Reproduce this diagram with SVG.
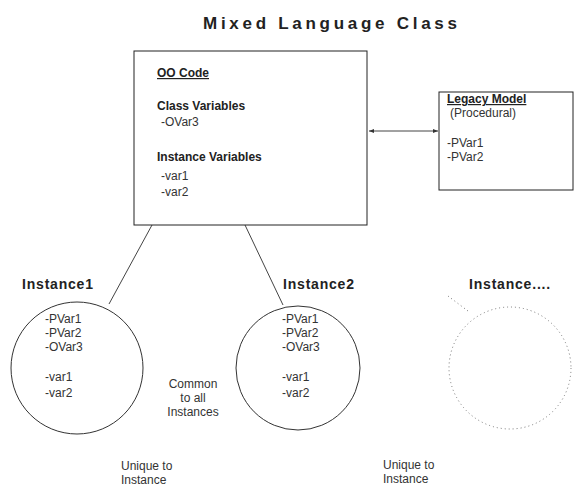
<svg xmlns="http://www.w3.org/2000/svg" width="582" height="500" viewBox="0 0 582 500">
<style>
text{font-family:"Liberation Sans",Arial,sans-serif;fill:#222}
.t{font-size:12px;fill:#333}
.b{font-size:12px;font-weight:bold}
.h{font-size:14px;font-weight:bold;letter-spacing:0.8px}
.box{fill:#fff;stroke:#222;stroke-width:1}
.c{fill:none;stroke:#333;stroke-width:1}
.ln{stroke:#444;stroke-width:1;fill:none}
</style>
<defs>
<marker id="ah" markerWidth="6" markerHeight="6" refX="5" refY="3" orient="auto-start-reverse" markerUnits="userSpaceOnUse">
<path d="M0,1 L5,3 L0,5 z" fill="#333"/>
</marker>
</defs>
<rect width="582" height="500" fill="#fff"/>
<text x="203" y="29" style="font-size:17px;font-weight:bold" textLength="254" lengthAdjust="spacing">Mixed  Language  Class</text>
<g id="connectors">
<line class="ln" x1="369" y1="131" x2="438" y2="131" marker-start="url(#ah)" marker-end="url(#ah)"/>
<line class="ln" x1="152" y1="225" x2="109" y2="304"/>
<line class="ln" x1="245" y1="225" x2="283" y2="305"/>
</g>
<g id="oo-code">
<rect class="box" x="134" y="51" width="233" height="174"/>
<text class="b" x="157" y="77" text-decoration="underline">OO Code</text>
<text class="b" x="157" y="110">Class Variables</text>
<text class="t" x="161" y="126">-OVar3</text>
<text class="b" x="157" y="161">Instance Variables</text>
<text class="t" x="161" y="180">-var1</text>
<text class="t" x="161" y="196">-var2</text>
</g>
<g id="legacy-model">
<rect class="box" x="439" y="92" width="134" height="98"/>
<text class="b" x="447" y="103" text-decoration="underline">Legacy Model</text>
<text class="t" x="450" y="117">(Procedural)</text>
<text class="t" x="447" y="147">-PVar1</text>
<text class="t" x="447" y="161">-PVar2</text>
</g>
<g id="instance1">
<text class="h" x="22" y="289">Instance1</text>
<circle class="c" cx="77" cy="368" r="66"/>
<text class="t" x="45" y="323">-PVar1</text>
<text class="t" x="45" y="337">-PVar2</text>
<text class="t" x="45" y="351">-OVar3</text>
<text class="t" x="45" y="381">-var1</text>
<text class="t" x="45" y="397">-var2</text>
</g>
<g id="instance2">
<text class="h" x="283" y="289">Instance2</text>
<circle class="c" cx="298" cy="368" r="62"/>
<text class="t" x="282" y="323">-PVar1</text>
<text class="t" x="282" y="337">-PVar2</text>
<text class="t" x="282" y="351">-OVar3</text>
<text class="t" x="282" y="381">-var1</text>
<text class="t" x="282" y="397">-var2</text>
</g>
<g id="instance-more">
<text class="h" x="469" y="289">Instance....</text>
<circle cx="510" cy="368" r="61" fill="none" stroke="#777" stroke-width="1" stroke-dasharray="1 3"/>
<line x1="448" y1="296" x2="468" y2="311" stroke="#777" stroke-width="1" stroke-dasharray="1 3"/>
</g>
<g id="notes">
<text class="t" x="193" y="388" text-anchor="middle">Common</text>
<text class="t" x="193" y="402" text-anchor="middle">to all</text>
<text class="t" x="193" y="416" text-anchor="middle">Instances</text>
<text class="t" x="121" y="470">Unique to</text>
<text class="t" x="121" y="484">Instance</text>
<text class="t" x="383" y="469">Unique to</text>
<text class="t" x="383" y="483">Instance</text>
</g>
</svg>
